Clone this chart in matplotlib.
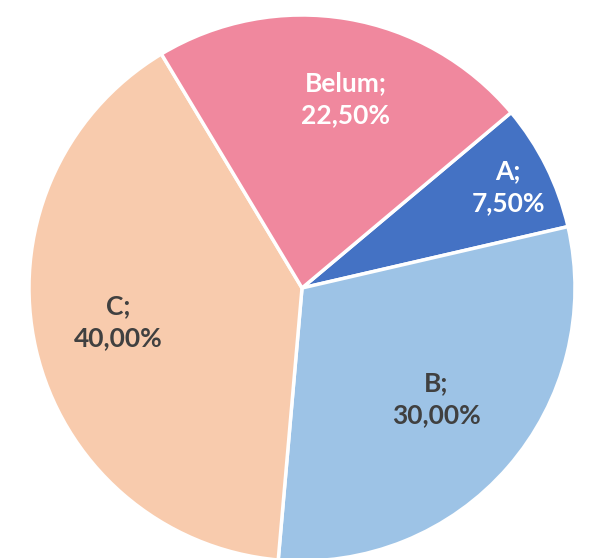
import numpy as np
import matplotlib.pyplot as plt

# slice data, drawn clockwise starting at 40 degrees
categories = ["A", "B", "C", "Belum"]
shares = [7.5, 30.0, 40.0, 22.5]
colors = ["#4472C4", "#9DC3E6", "#F8CBAD", "#F0889E"]
text_colors = ["white", "#404040", "#404040", "white"]
label_dist = [0.84, 0.64, 0.685, 0.71]
label_shift = [-0.5, 1.3, -2.5, -3.5]  # degrees off the slice middle

plt.rcParams["font.family"] = ["Lato", "DejaVu Sans"]

fig = plt.figure(figsize=(5.96, 5.58), dpi=100)
ax = fig.add_axes([29 / 596, -3 / 558, 546 / 596, 546 / 558])

wedges, _ = ax.pie(shares, colors=colors, startangle=40, counterclock=False,
                   wedgeprops=dict(edgecolor="white", linewidth=2.5))

for w, cat, val, tc, d, s in zip(wedges, categories, shares, text_colors,
                                 label_dist, label_shift):
    mid = np.deg2rad((w.theta1 + w.theta2) / 2 + s)
    label = f"{cat};\n{val:.2f}%".replace(".", ",")
    ax.text(d * np.cos(mid), d * np.sin(mid), label, ha="center", va="center",
            color=tc, fontsize=19, fontweight="bold", linespacing=1.4)

ax.set_xlim(-1, 1)
ax.set_ylim(-1, 1)
ax.axis("off")
fig.savefig("out.png", dpi=100)
